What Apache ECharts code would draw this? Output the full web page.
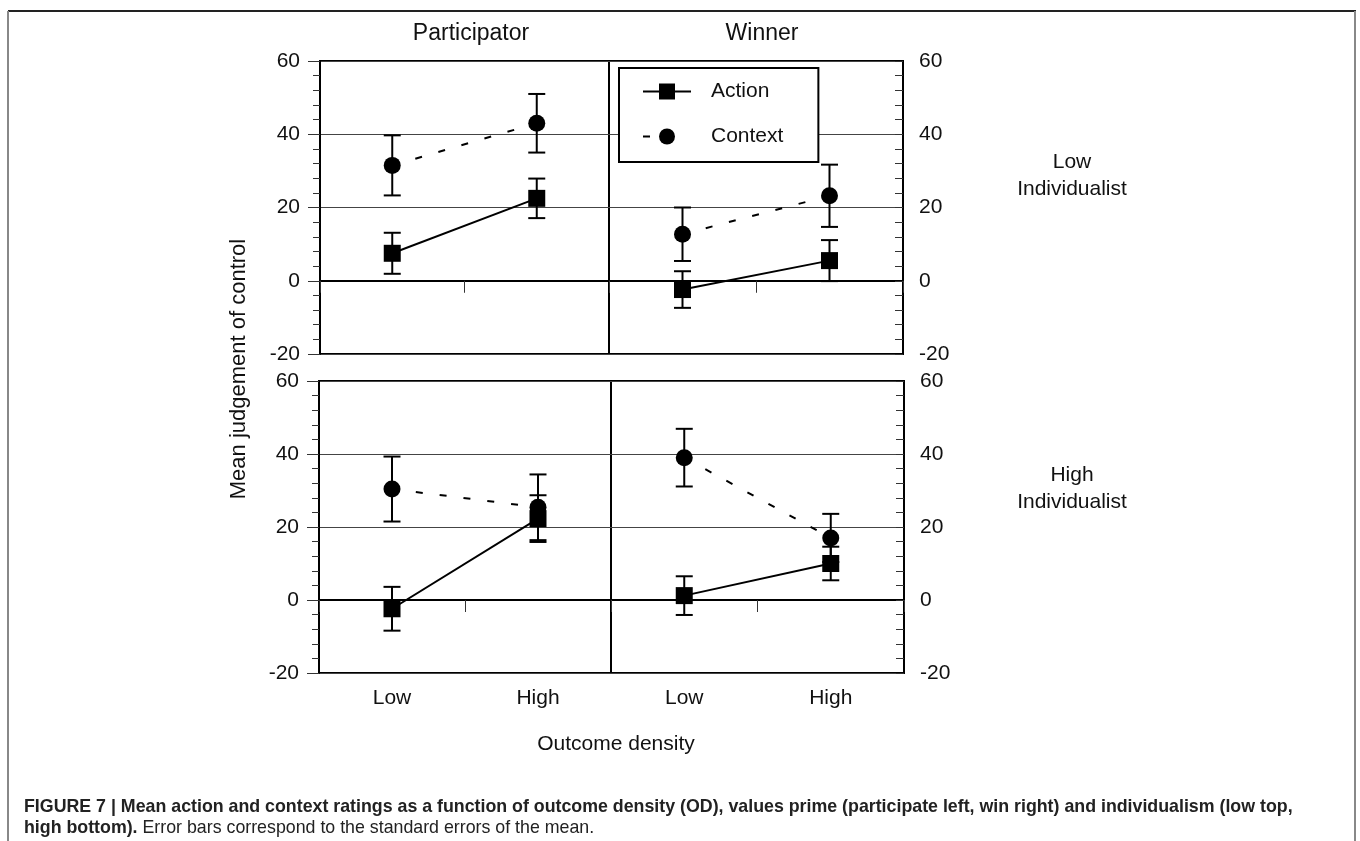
<!DOCTYPE html>
<html>
<head>
<meta charset="utf-8">
<script src="https://cdn.jsdelivr.net/npm/echarts@6/dist/echarts.min.js"></script>
<style>
html,body{margin:0;padding:0;background:#fff;}
#chart{width:1360px;height:841px;}
</style>
</head>
<body>
<div id="chart"></div>
<script>
// ---- data ----
const categories = ['Low', 'High'];
const yTicks = [-20, 0, 20, 40, 60];
const panelTitles = ['Participator', 'Winner'];
const rowTitles = ['Low\nIndividualist', 'High\nIndividualist'];
const seriesNames = ['Action', 'Context'];

// Low individualist, Participator
const actionLowPart = [7.5, 22.5];
const actionLowPartSE = [5.6, 5.4];
const contextLowPart = [31.5, 43.0];
const contextLowPartSE = [8.2, 8.0];
// Low individualist, Winner
const actionLowWin = [-2.4, 5.5];
const actionLowWinSE = [5.0, 5.6];
const contextLowWin = [12.7, 23.2];
const contextLowWinSE = [7.3, 8.5];
// High individualist, Participator
const actionHighPart = [-2.4, 22.3];
const actionHighPartSE = [6.0, 6.4];
const contextHighPart = [30.4, 25.4];
const contextHighPartSE = [8.9, 9.0];
// High individualist, Winner
const actionHighWin = [1.2, 10.0];
const actionHighWinSE = [5.3, 4.6];
const contextHighWin = [39.0, 17.0];
const contextHighWinSE = [7.9, 6.6];

const xAxisTitle = 'Outcome density';
const yAxisTitle = 'Mean judgement of control';
const captionBold1 = 'FIGURE 7 | Mean action and context ratings as a function of outcome density (OD), values prime (participate left, win right) and individualism (low top,';
const captionBold2 = 'high bottom).';
const captionRest = ' Error bars correspond to the standard errors of the mean.';

// ---- build ----
const FONT = '"Liberation Sans", Arial, Helvetica, sans-serif';
const panels = [
  {action: actionLowPart, actionSE: actionLowPartSE, context: contextLowPart, contextSE: contextLowPartSE},
  {action: actionLowWin, actionSE: actionLowWinSE, context: contextLowWin, contextSE: contextLowWinSE},
  {action: actionHighPart, actionSE: actionHighPartSE, context: contextHighPart, contextSE: contextHighPartSE},
  {action: actionHighWin, actionSE: actionHighWinSE, context: contextHighWin, contextSE: contextHighWinSE}
];
const gridBoxes = [
  {left: 320, top: 61, width: 289, height: 293},
  {left: 609, top: 61, width: 294, height: 293},
  {left: 319, top: 381, width: 292, height: 292},
  {left: 611, top: 381, width: 293, height: 292}
];

const grids = [], xAxes = [], yAxes = [], series = [];
gridBoxes.forEach((g, i) => {
  grids.push(Object.assign({show: true, borderColor: '#000', borderWidth: 2, backgroundColor: 'transparent', containLabel: false}, g));
  const bottomRow = i >= 2;
  const rightCol = i % 2 === 1;
  // label axis (bottom)
  xAxes.push({
    type: 'category', gridIndex: i, data: categories, position: 'bottom',
    axisLine: {show: false, onZero: false}, axisTick: {show: false},
    axisLabel: {show: bottomRow, fontSize: 21, color: '#111', fontFamily: FONT, margin: 15},
    splitLine: {show: false}
  });
  // zero line axis with centre tick
  xAxes.push({
    type: 'category', gridIndex: i, data: categories, position: 'top',
    axisLine: {show: true, onZero: true, lineStyle: {color: '#000', width: 2}},
    axisTick: {show: true, inside: true, length: 12, lineStyle: {color: '#333', width: 1}},
    axisLabel: {show: false}, splitLine: {show: false}
  });
  yAxes.push({
    type: 'value', gridIndex: i, min: yTicks[0], max: yTicks[yTicks.length - 1], interval: 20,
    position: rightCol ? 'right' : 'left',
    axisLine: {show: true, lineStyle: {color: '#000', width: 2}},
    axisTick: {show: true, inside: rightCol, length: rightCol ? 8 : 12, lineStyle: {color: '#333', width: 1}},
    minorTick: {show: true, splitNumber: 5, length: rightCol ? 8 : 7, lineStyle: {color: '#333', width: 1}},
    axisLabel: {show: true, fontSize: 21, color: '#111', fontFamily: FONT, margin: rightCol ? 16 : 20},
    splitLine: {show: true, lineStyle: {color: '#444', width: 1}}
  });
  const p = panels[i];
  const xi = i * 2;
  series.push({
    name: seriesNames[0], type: 'line', xAxisIndex: xi, yAxisIndex: i, data: p.action,
    symbol: 'rect', symbolSize: 17, itemStyle: {color: '#000'},
    lineStyle: {color: '#000', width: 2, type: 'solid'}, z: 5, animation: false
  });
  series.push({
    name: seriesNames[1], type: 'line', xAxisIndex: xi, yAxisIndex: i, data: p.context,
    symbol: 'circle', symbolSize: 17, itemStyle: {color: '#000'},
    lineStyle: {color: '#000', width: 2, type: [7, 17], dashOffset: 0}, z: 5, animation: false
  });
  [[p.action, p.actionSE], [p.context, p.contextSE]].forEach(([m, se], k) => {
    series.push({
      name: seriesNames[k] + ' SE', type: 'custom', xAxisIndex: xi, yAxisIndex: i,
      data: m.map((v, j) => [j, v, se[j]]),
      encode: {x: 0, y: 1}, z: 4, animation: false,
      renderItem: function (params, api) {
        const x = api.value(0), v = api.value(1), e = api.value(2);
        const hi = api.coord([x, v + e]);
        const lo = api.coord([x, v - e]);
        const hw = 8.5;
        const st = {stroke: '#000', lineWidth: 2};
        return {type: 'group', children: [
          {type: 'line', shape: {x1: hi[0], y1: hi[1], x2: lo[0], y2: lo[1]}, style: st},
          {type: 'line', shape: {x1: hi[0] - hw, y1: hi[1], x2: hi[0] + hw, y2: hi[1]}, style: st},
          {type: 'line', shape: {x1: lo[0] - hw, y1: lo[1], x2: lo[0] + hw, y2: lo[1]}, style: st}
        ]};
      }
    });
  });
});

const titleStyle = (size, extra) => Object.assign({fontSize: size, fontWeight: 'normal', color: '#111', fontFamily: FONT}, extra || {});

const option = {
  backgroundColor: '#fff',
  animation: false,
  textStyle: {fontFamily: FONT},
  grid: grids,
  xAxis: xAxes,
  yAxis: yAxes,
  series: series,
  legend: {
    data: seriesNames,
    orient: 'vertical',
    left: 619, top: 68,
    padding: [13, 35, 15, 23],
    itemWidth: 48, itemHeight: 20, itemGap: 24,
    backgroundColor: '#fff', borderColor: '#000', borderWidth: 2,
    textStyle: {fontSize: 21, color: '#111', fontFamily: FONT, padding: [0, 0, 0, 15]},
    selectedMode: false,
    z: 10
  },
  title: [
    {text: panelTitles[0], left: 466, top: 17, textAlign: 'center', textStyle: titleStyle(23)},
    {text: panelTitles[1], left: 757, top: 17, textAlign: 'center', textStyle: titleStyle(23)},
    {text: rowTitles[0], left: 1067, top: 144, textAlign: 'center', textStyle: titleStyle(21, {lineHeight: 27})},
    {text: rowTitles[1], left: 1067, top: 457, textAlign: 'center', textStyle: titleStyle(21, {lineHeight: 27})},
    {text: xAxisTitle, left: 611, top: 729, textAlign: 'center', textStyle: titleStyle(21)}
  ],
  graphic: [
    {type: 'text', x: 239, y: 369, rotation: Math.PI / 2, style: {text: yAxisTitle, fontSize: 22, fill: '#111', fontFamily: FONT, align: 'center', verticalAlign: 'middle'}},
    {type: 'line', shape: {x1: 8, y1: 11, x2: 1356, y2: 11}, style: {stroke: '#222', lineWidth: 2}},
    {type: 'line', shape: {x1: 8, y1: 11, x2: 8, y2: 841}, style: {stroke: '#888', lineWidth: 2}},
    {type: 'line', shape: {x1: 1355, y1: 11, x2: 1355, y2: 841}, style: {stroke: '#888', lineWidth: 2}},
    {type: 'text', left: 24, top: 798, style: {
      text: '{b|' + captionBold1 + '}\n{b|' + captionBold2 + '}{r|' + captionRest + '}',
      rich: {
        b: {fontSize: 17.8, fontWeight: 'bold', fill: '#222', fontFamily: FONT, lineHeight: 21},
        r: {fontSize: 17.8, fontWeight: 'normal', fill: '#222', fontFamily: FONT, lineHeight: 21}
      }
    }}
  ]
};

const chart = echarts.init(document.getElementById('chart'), null, {renderer: 'canvas'});
chart.setOption(option);
</script>
</body>
</html>
